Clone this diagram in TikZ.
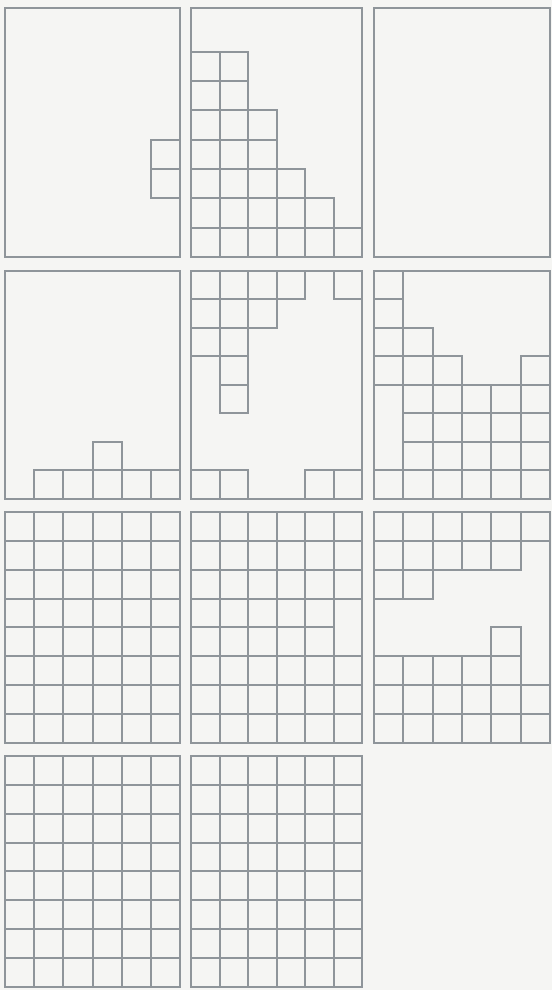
\documentclass[tikz,border=0pt]{standalone}
\definecolor{grigio}{RGB}{143,149,154}
\definecolor{carta}{RGB}{245,245,243}
\tikzset{
    cornice/.style={draw=grigio, line width=2.4pt},
    cella/.style={draw=grigio, line width=2pt},
}
\begin{document}
\begin{tikzpicture}[x=1pt, y=1pt]
    % Sfondo
    \fill[carta] (0,0) rectangle (552,990);
    \useasboundingbox (0,0) rectangle (552,990);

    % Prima riga
    \begin{scope}[shift={(5,733)}, x=29.17pt, y=29.3pt]
        \foreach \r in {3,4} \draw[cella] (5,\r-1) rectangle (6,\r);
        \draw[cornice] (0,0) rectangle (6,8.5);
    \end{scope}
    \begin{scope}[shift={(191,733)}, x=28.5pt, y=29.3pt]
        \foreach \c/\n in {1/7,2/7,3/5,4/3,5/2,6/1}
            \foreach \r in {1,...,\n} \draw[cella] (\c-1,\r-1) rectangle (\c,\r);
        \draw[cornice] (0,0) rectangle (6,8.5);
    \end{scope}
    \begin{scope}[shift={(374,733)}, x=29.33pt, y=29.3pt]
        \draw[cornice] (0,0) rectangle (6,8.5);
    \end{scope}

    % Seconda riga
    \begin{scope}[shift={(5,491)}, x=29.17pt, y=28.5pt]
        \foreach \c/\n in {2/1,3/1,4/2,5/1,6/1}
            \foreach \r in {1,...,\n} \draw[cella] (\c-1,\r-1) rectangle (\c,\r);
        \draw[cornice] (0,0) rectangle (6,8);
    \end{scope}
    \begin{scope}[shift={(191,491)}, x=28.5pt, y=28.5pt]
        \foreach \c/\r in {1/8,2/8,3/8,4/8,6/8,1/7,2/7,3/7,1/6,2/6,2/5,2/4,1/1,2/1,5/1,6/1}
            \draw[cella] (\c-1,\r-1) rectangle (\c,\r);
        \draw[cornice] (0,0) rectangle (6,8);
    \end{scope}
    \begin{scope}[shift={(374,491)}, x=29.33pt, y=28.5pt]
        \foreach \r in {1,5,6,7,8} \draw[cella] (0,\r-1) rectangle (1,\r);
        \foreach \c/\n in {2/6,3/5,4/4,5/4,6/5}
            \foreach \r in {1,...,\n} \draw[cella] (\c-1,\r-1) rectangle (\c,\r);
        \draw[cornice] (0,0) rectangle (6,8);
    \end{scope}

    % Terza riga
    \begin{scope}[shift={(5,247)}, x=29.17pt, y=28.875pt]
        \foreach \c in {1,...,6}
            \foreach \r in {1,...,8} \draw[cella] (\c-1,\r-1) rectangle (\c,\r);
        \draw[cornice] (0,0) rectangle (6,8);
    \end{scope}
    \begin{scope}[shift={(191,247)}, x=28.5pt, y=28.875pt]
        \foreach \c in {1,...,5}
            \foreach \r in {1,...,8} \draw[cella] (\c-1,\r-1) rectangle (\c,\r);
        \foreach \r in {1,2,3,6,7,8} \draw[cella] (5,\r-1) rectangle (6,\r);
        \draw[cella] (5,3) rectangle (6,5);
        \draw[cornice] (0,0) rectangle (6,8);
    \end{scope}
    \begin{scope}[shift={(374,247)}, x=29.33pt, y=28.875pt]
        \foreach \r/\n in {1/6,2/6,3/5,6/2,7/5,8/6}
            \foreach \c in {1,...,\n} \draw[cella] (\c-1,\r-1) rectangle (\c,\r);
        \draw[cella] (4,3) rectangle (5,4);
        \draw[cornice] (0,0) rectangle (6,8);
    \end{scope}

    % Quarta riga
    \begin{scope}[shift={(5,3)}, x=29.17pt, y=28.875pt]
        \foreach \c in {1,...,6}
            \foreach \r in {1,...,8} \draw[cella] (\c-1,\r-1) rectangle (\c,\r);
        \draw[cornice] (0,0) rectangle (6,8);
    \end{scope}
    \begin{scope}[shift={(191,3)}, x=28.5pt, y=28.875pt]
        \foreach \c in {1,...,6}
            \foreach \r in {1,...,8} \draw[cella] (\c-1,\r-1) rectangle (\c,\r);
        \draw[cornice] (0,0) rectangle (6,8);
    \end{scope}
\end{tikzpicture}
\end{document}
